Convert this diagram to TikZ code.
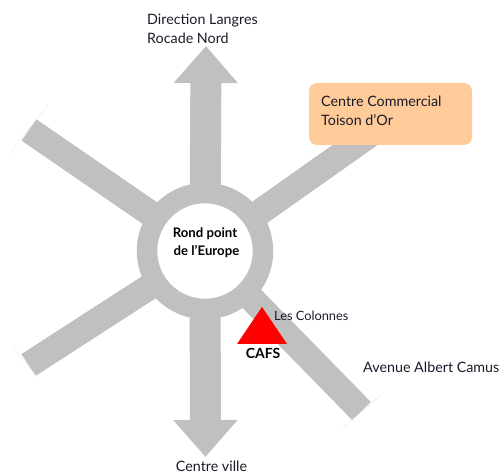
\documentclass[tikz,border=0pt]{standalone}
\usepackage{fontspec}
\setmainfont{Lato}
\usetikzlibrary{arrows.meta,backgrounds}
\definecolor{roadgray}{HTML}{C0C0C0}
\definecolor{edgegray}{HTML}{EBEBEB}
\definecolor{boxorange}{HTML}{FFCC99}
\definecolor{inkblack}{HTML}{1A1A2A}
\tikzset{
  road/.style={draw=roadgray,line width=26pt},
  bigarrow/.style={draw=roadgray,line width=31pt,-{Triangle[length=37pt,width=62pt]}},
  endmark/.style={draw=edgegray,line width=0.5pt},
  hubring/.style={circle,draw=roadgray,line width=20.5pt,fill=white,minimum size=116pt,inner sep=0pt},
  hubtext/.style={align=center,inner sep=0pt,font=\fontsize{13.2}{18}\selectfont\bfseries,text=black},
  place/.style={font=\fontsize{14.3}{19}\selectfont,text=inkblack,inner sep=0pt,align=left},
  smallplace/.style={font=\fontsize{12.8}{16}\selectfont,text=inkblack,inner sep=0pt,anchor=west},
}
\begin{document}
\begin{tikzpicture}[x=1pt,y=-1pt]
\useasboundingbox (0,0) rectangle (499,473);
% roundabout
\node[hubring] (hub) at (205,251) {};
\node[hubtext] (hubname) at (205,242.5) {Rond point\\ \hspace{3pt}de l'Europe};
% road ends
\coordinate (ul) at (29,130);
\coordinate (ll) at (28.5,365);
\coordinate (lr) at (361.5,411);
\coordinate (ur) at (372,133);
\coordinate (north) at (206,46);
\coordinate (south) at (205.5,457);
\begin{scope}[on background layer]
  \draw[road] (hub.center) -- (ul);
  \draw[road] (hub.center) -- (ll);
  \draw[road] (hub.center) -- (lr);
  \draw[road] (hub.center) -- (ur);
  \draw[bigarrow] (hub.center) -- (north);
  \draw[bigarrow] (hub.center) -- (south);
\end{scope}
% thin end marks
\coordinate (ula) at (48,105); \coordinate (ulb) at (9,154);
\coordinate (lla) at (12,346); \coordinate (llb) at (38,378);
\coordinate (lra) at (381,395); \coordinate (lrb) at (343,428);
\draw[endmark] (ula) -- (ulb);
\draw[endmark] (lla) -- (llb);
\draw[endmark] (lra) -- (lrb);
% shopping centre
\node[fill=boxorange,rounded corners=8pt,minimum width=163pt,minimum height=62pt,inner sep=0pt] (centre) at (390.5,114) {};
\node[place,anchor=west] (centretext) at (321,110.5) {Centre Commercial\\Toison d'Or};
% CAFS
\fill[red] (262,307) coordinate (apex) -- (287,344) -- (237,344) -- cycle;
\node[font=\fontsize{14}{16}\selectfont\bfseries,text=black,inner sep=0pt] (cafs) at (263,353) {CAFS};
% labels
\node[place,anchor=west] (north label) at (147,28.5) {Direction Langres\\Rocade Nord};
\node[smallplace] (colonnes) at (274,316) {Les Colonnes};
\node[place,anchor=west] (camus) at (363,367) {Avenue Albert Camus};
\node[place] (south label) at (211.5,466) {Centre ville};
\end{tikzpicture}
\end{document}
